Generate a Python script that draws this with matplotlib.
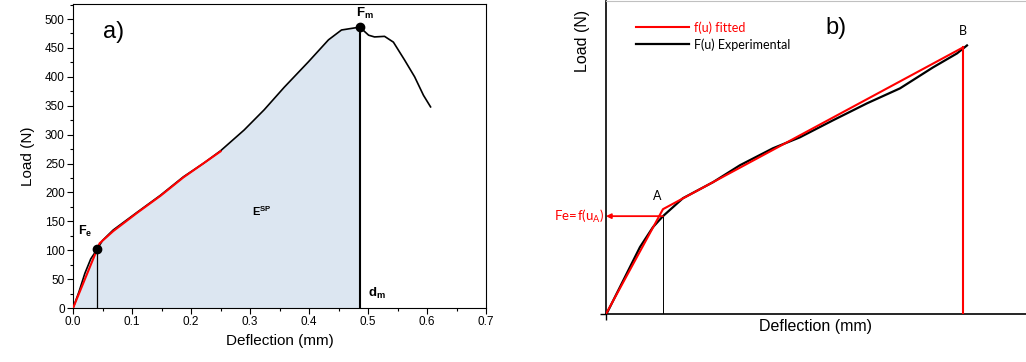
import matplotlib
matplotlib.use('Agg')
import matplotlib.pyplot as plt
import numpy as np

plt.rcParams['font.family'] = ['Liberation Sans', 'DejaVu Sans']
plt.rcParams['mathtext.fontset'] = 'custom'
plt.rcParams['mathtext.rm'] = 'Lato'
plt.rcParams['mathtext.bf'] = 'Liberation Sans:bold'

# ---- panel a) data (mm, N) ----
defl_a = [0.0, 0.010, 0.020, 0.030, 0.041, 0.050, 0.068, 0.109, 0.148, 0.187,
          0.222, 0.250, 0.290, 0.324, 0.358, 0.399, 0.433, 0.455, 0.486,
          0.501, 0.511, 0.528, 0.543, 0.562, 0.579, 0.594, 0.606]
load_a = [0, 28, 60, 85, 102, 117, 135, 166, 195, 227,
          251, 272, 308, 343, 382, 426, 464, 481, 486,
          472, 469, 470, 460, 429, 400, 368, 348]
fit_defl_a = [0.0, 0.045, 0.068, 0.109, 0.148, 0.187, 0.25]
fit_load_a = [0, 112, 133, 165, 194, 226, 271]
Fe = (0.041, 102)
Fm = (0.486, 486)

# ---- panel b) data (arbitrary units) ----
u_exp = [0, 1, 21, 34, 47, 57, 67, 77, 107, 134, 167, 194, 227, 261, 294,
         327, 351, 361]
F_exp = [0, 1, 41, 67, 87, 98, 107, 116, 132, 149, 166, 177, 194, 211, 226,
         247, 261, 269]
u_fit = [0, 57, 357]
F_fit = [0, 105, 267]
uA, FA = 57, 98
uB, FB = 357, 267

fig = plt.figure(figsize=(10.26, 3.62), dpi=100)

# ================= a) =================
ax = fig.add_axes([0.0712, 0.149, 0.4025, 0.840])
m = np.array(defl_a) <= Fm[0]
ax.fill_between(np.array(defl_a)[m], np.array(load_a)[m], 0,
                color='#dce6f1', lw=0, zorder=1)
ax.plot(defl_a, load_a, color='black', lw=1.2, zorder=3)
ax.plot(fit_defl_a, fit_load_a, color='#ff0000', lw=1.5, zorder=4)
ax.plot([Fe[0], Fe[0]], [0, Fe[1]], color='black', lw=0.9, zorder=2)
ax.plot([Fm[0], Fm[0]], [0, Fm[1]], color='black', lw=1.5, zorder=2)
ax.plot(*Fe, 'o', color='black', ms=6, zorder=5)
ax.plot(*Fm, 'o', color='black', ms=6, zorder=5)

ax.set_xlim(0, 0.7)
ax.set_ylim(0, 526)
ax.set_xticks(np.arange(0, 0.71, 0.1))
ax.set_xticks(np.arange(0, 0.71, 0.05), minor=True)
ax.set_yticks(np.arange(0, 501, 50))
ax.set_yticks(np.arange(0, 526, 25), minor=True)
ax.xaxis.set_major_formatter(matplotlib.ticker.FormatStrFormatter('%.1f'))
ax.tick_params(which='major', direction='out', length=4, width=0.8,
               labelsize=8.5, pad=2)
ax.tick_params(which='minor', direction='out', length=2.2, width=0.8)
ax.set_xlabel('Deflection (mm)', fontsize=11, labelpad=4)
ax.set_ylabel('Load (N)', fontsize=11, labelpad=7)

ax.text(0.051, 478, 'a)', fontsize=17, va='center', ha='left')
ax.text(0.008, 133, r'$\mathbf{F_e}$', fontsize=9, va='center', ha='left')
ax.text(0.303, 168, r'$\mathbf{E^{SP}}$', fontsize=8, va='center', ha='left')
ax.text(0.48, 510, r'$\mathbf{F_m}$', fontsize=9.5, va='center', ha='left')
ax.text(0.50, 26, r'$\mathbf{d_m}$', fontsize=9.5, va='center', ha='left')

# ================= b) =================
bx = fig.add_axes([0.5906, 0.1326, 0.4094, 0.866])
bx.plot(u_exp, F_exp, color='black', lw=1.6, label='F(u) Experimental', zorder=3)
bx.plot(u_fit, F_fit, color='#ff0000', lw=1.5, label='f(u) fitted', zorder=4)
bx.plot([uB, uB], [0, FB], color='#ff0000', lw=1.5, zorder=4)
bx.plot([uA, uA], [0, FA], color='black', lw=0.7, zorder=2)
bx.annotate('', xy=(0, FA), xytext=(uA, FA),
            arrowprops=dict(arrowstyle='-|>', color='#ff0000', lw=1.3,
                            mutation_scale=7, shrinkA=0, shrinkB=0),
            zorder=5)

bx.set_xlim(0, 420)
bx.set_ylim(0, 314)
bx.set_xticks([0])
bx.set_yticks([0])
bx.set_xticklabels([])
bx.set_yticklabels([])
bx.tick_params(direction='out', length=4, width=1)
bx.spines['right'].set_visible(False)
bx.spines['top'].set_color('#c0c0c0')
for s in ['left', 'bottom']:
    bx.spines[s].set_linewidth(1.2)

bx.set_xlabel('Deflection (mm)', fontsize=11.5)
bx.xaxis.set_label_coords(0.5, -0.015)
bx.set_ylabel('Load (N)', fontsize=11.5)
bx.yaxis.set_label_coords(-0.037, 0.87)

h, l = bx.get_legend_handles_labels()
leg = bx.legend(h[::-1], l[::-1], loc='upper left', bbox_to_anchor=(0.045, 0.97),
                frameon=False, prop={'family': 'Lato', 'size': 9},
                labelcolor=['#ff0000', 'black'], handlelength=4.2,
                handletextpad=0.4, labelspacing=0.35)

bx.text(219, 286, 'b)', fontsize=17, va='center', ha='left')
bx.text(uA - 6, FA + 20, 'A', fontsize=9, family='Lato', ha='center', va='center')
bx.text(uB, FB + 16, 'B', fontsize=9, family='Lato', ha='center', va='center')
bx.text(-2, FA, r'$\mathrm{Fe}\!=\!\mathrm{f(u_A)}$', fontsize=9.5,
        color='#ff0000', ha='right', va='center', clip_on=False)

fig.savefig('out.png', dpi=100)
